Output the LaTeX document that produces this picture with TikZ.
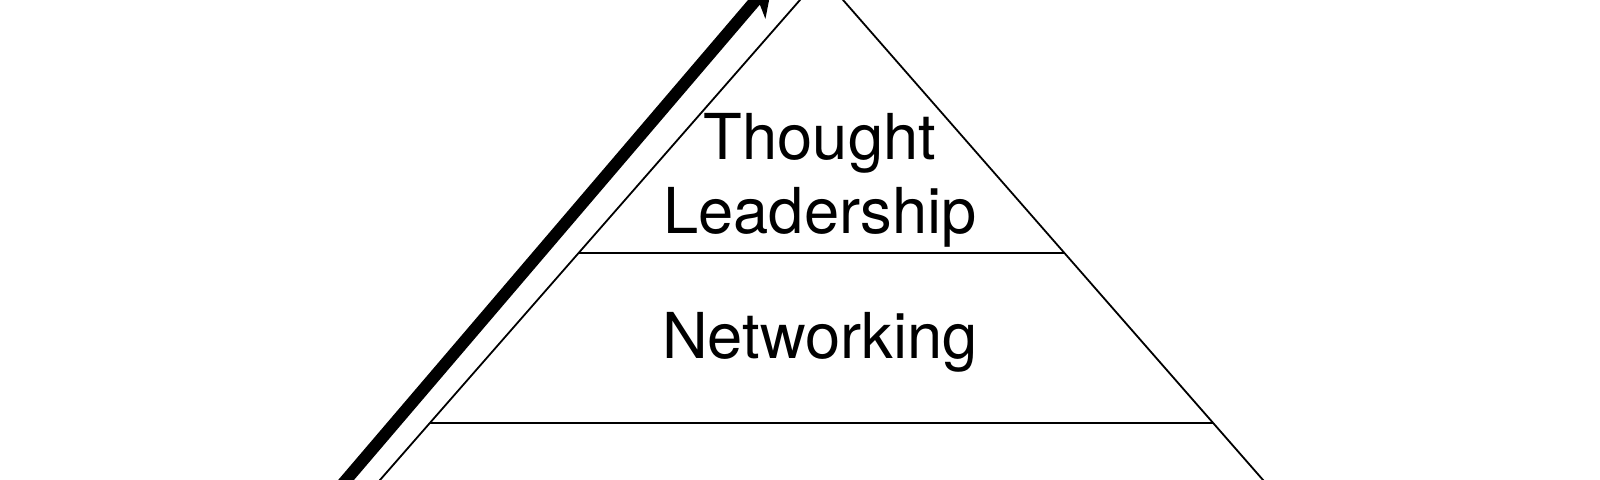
\documentclass[tikz,border=0pt]{standalone}
\usepackage{fontspec}
\setmainfont{TeX Gyre Heros}
\usetikzlibrary{positioning}
\usetikzlibrary{calc}
\usetikzlibrary{arrows.meta}

\begin{document}
\begin{tikzpicture}[
        x=0.01cm, y=0.01cm,
        % Standard style for the pyramid
        pyrline/.style={
            draw,
            line width=0.018cm
        },
        levellabel/.style={
            font=\fontsize{18}{21}\selectfont,
            align=center,
            inner sep=0pt
        },
        climb/.style={
            line width=0.12cm,
            -{Stealth[length=0.34cm, width=0.38cm, inset=0.1cm]}
        }
        ]

        \useasboundingbox (0,0) rectangle (1600,480);
        \clip (0,0) rectangle (1600,480);

        \coordinate (apex) at (821.5,504.6);
        \coordinate (baseleft) at (362.5,-20);
        \coordinate (baseright) at (1280.5,-20);
        \draw [pyrline] (baseleft) -- (apex) -- (baseright);

        % level borders
        \coordinate (lvl1left) at ($(apex)!0.529!(baseleft)$);
        \coordinate (lvl1right) at ($(apex)!0.529!(baseright)$);
        \draw [pyrline] (lvl1left) -- (lvl1right);
        \coordinate (lvl2left) at ($(apex)!0.853!(baseleft)$);
        \coordinate (lvl2right) at ($(apex)!0.853!(baseright)$);
        \draw [pyrline] (lvl2left) -- (lvl2right);

        \node [levellabel] (leadership) at (820,300) {Thought\\Leadership};
        \node [levellabel] (networking) at (820,138) {Networking};

        % the way up
        \coordinate (climbstart) at (329,-20);
        \coordinate (climbend) at (773,500);
        \draw [climb] (climbstart) -- (climbend);
\end{tikzpicture}
\end{document}
